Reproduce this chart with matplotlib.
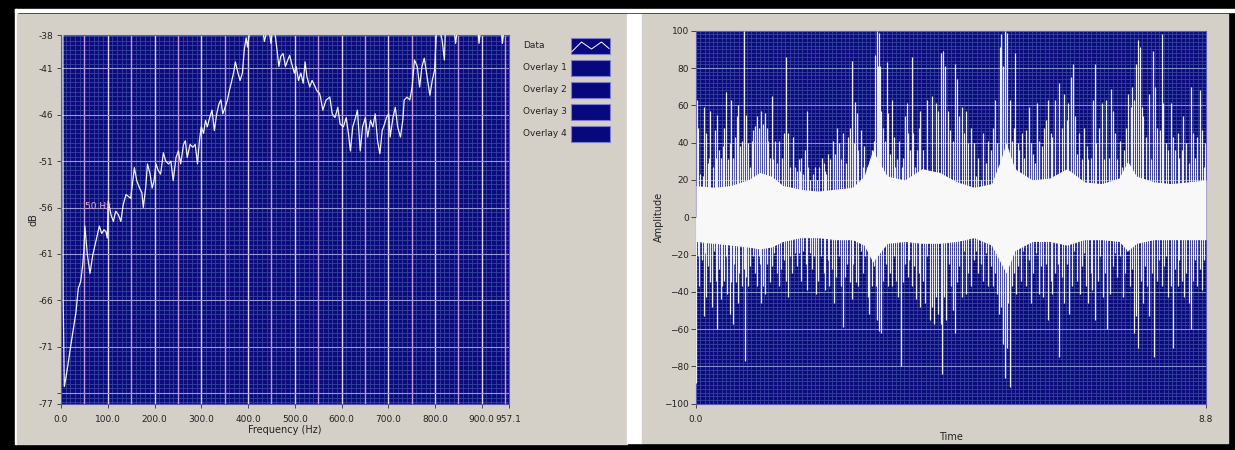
import numpy as np
import matplotlib
matplotlib.use("Agg")
from matplotlib import pyplot as plt
from matplotlib.patches import Rectangle

# ---- left graph: power spectrum (Hz, dB) ----
freq_hz = [4, 4.6, 7, 10, 15.6, 20.8, 26.3, 32, 37, 42, 46.4, 49, 51, 56.4, 62, 68, 73, 78, 82, 87,
           92, 96, 99, 101, 107, 112, 117, 123, 128, 133, 139, 144, 149, 153.5, 157, 162, 168, 173,
           176, 181, 185, 190.6, 195, 199, 203, 208, 213, 219, 224, 230, 235, 240, 246, 251, 256,
           262, 266, 270, 276, 282, 287, 292, 296, 300, 305, 309, 313, 318, 323, 328, 333, 338, 342,
           346, 351, 356, 360, 364, 369, 373, 378, 383, 388, 392, 396, 399, 403, 410, 420, 430, 435,
           440, 445, 449, 452, 457, 462, 466, 470, 475, 480, 485, 489, 494, 499, 503, 508, 513, 518,
           522, 526, 532, 537, 542, 547, 553, 555, 560, 567, 575, 580, 586, 592, 597, 604, 610, 615,
           619, 624, 630, 634, 640, 645, 651, 656, 662, 667, 672, 677, 682, 687, 692, 696, 701, 704,
           710, 715, 720, 726, 731, 734, 740, 746, 751, 756, 762, 767, 772, 777, 783, 789, 794, 799,
           803, 808, 815, 820, 822, 830, 841, 844, 847, 870, 892, 894, 897, 920, 942, 944, 947, 957.1]
level_db = [-36, -65.5, -75.3, -74.5, -72.7, -70.9, -69.1, -67.3, -64.7, -64, -62.2, -60.6, -58, -61.1,
            -63.1, -61.1, -60, -58.9, -58, -58.8, -58.4, -58.6, -59.3, -55.3, -56.8, -57.5, -56.4,
            -56.8, -57.5, -55.7, -54.6, -54.8, -55, -53.1, -51.7, -53.1, -53.9, -54.4, -56, -53.9,
            -51.3, -52.4, -53.9, -53.1, -51.3, -52, -52.4, -50.1, -51, -51.3, -51, -53.1, -50.6,
            -49.9, -51.3, -49.2, -48.8, -50.6, -49.2, -49.5, -49.2, -51.3, -48.8, -47.3, -48, -46.6,
            -47.3, -46.3, -45.5, -47.7, -45.9, -44.8, -44.4, -45.9, -45.2, -44.4, -43.4, -42.6,
            -41.5, -40.3, -41.4, -42.3, -41.5, -39, -37.7, -38.7, -37.2, -36, -36.5, -36.2, -38.1,
            -37, -36.8, -38.3, -37, -37, -39, -40.8, -39.7, -39.4, -40.8, -40.1, -39.6, -40.6, -41.5,
            -40.8, -42.3, -41.5, -42.6, -40.3, -41.9, -43, -42.3, -42.8, -43.4, -43.7, -44.1, -45.5,
            -44.4, -44.1, -45.9, -46.3, -45.2, -47, -47.3, -46.3, -48.1, -49.9, -47.3, -46.3, -45.5,
            -49.9, -47.3, -46.3, -48.4, -46.6, -47.3, -45.9, -48.8, -50.2, -47.7, -47, -46.3, -45.9,
            -48.4, -46.3, -45.2, -47.3, -48.4, -46.6, -44.4, -44.1, -44.4, -43, -40.1, -40.8, -43,
            -40.8, -39.9, -41.9, -43.9, -42.3, -41.2, -37, -36.5, -37.9, -40.1, -37, -36.5, -37,
            -38.3, -37, -36.5, -37, -38.3, -37, -36.5, -37, -38.3, -37, -36.8]

freq_ticks = [0, 100, 200, 300, 400, 500, 600, 700, 800, 900, 957.1]
freq_labels = ["0.0", "100.0", "200.0", "300.0", "400.0", "500.0", "600.0", "700.0", "800.0",
               "900.0", "957.1"]
db_ticks = [-37.4, -41, -46, -51, -56, -61, -66, -71, -76, -77.15]
db_labels = ["-38", "-41", "-46", "-51", "-56", "-61", "-66", "-71", "", "-77"]
legend_names = ["Data", "Overlay 1", "Overlay 2", "Overlay 3", "Overlay 4"]

# ---- right graph: time signal ----
core_t = [0.0, 0.3, 0.6, 0.9, 1.1, 1.3, 1.5, 1.8, 2.1, 2.4, 2.7, 2.9, 3.05, 3.15, 3.3, 3.6, 3.9, 4.2,
          4.5, 4.8, 5.1, 5.25, 5.35, 5.5, 5.8, 6.1, 6.4, 6.7, 7.0, 7.3, 7.45, 7.6, 7.9, 8.2, 8.5, 8.8]
core_hi = [17, 16, 17, 20, 24, 22, 17, 15, 14, 15, 16, 22, 36, 30, 22, 20, 26, 24, 19, 16, 18, 30,
           40, 26, 20, 21, 26, 19, 18, 21, 30, 22, 19, 18, 19, 20]
core_lo = [-13, -14, -15, -16, -17, -16, -13, -11, -11, -12, -12, -15, -24, -20, -14, -13, -14, -14,
           -13, -11, -15, -24, -30, -18, -13, -13, -15, -12, -12, -13, -18, -14, -12, -12, -12, -12]

up_t = [0.01, 0.04, 0.07, 0.12, 0.14, 0.17, 0.20, 0.23, 0.25, 0.29, 0.32, 0.35, 0.37, 0.40, 0.43,
        0.46, 0.49, 0.52, 0.55, 0.58, 0.60, 0.63, 0.67, 0.70, 0.73, 0.76, 0.80, 0.83, 0.86, 0.89,
        0.93, 0.96, 0.99, 1.02, 1.05, 1.09, 1.13, 1.16, 1.19, 1.22, 1.25, 1.28, 1.31, 1.33, 1.36,
        1.39, 1.44, 1.48, 1.52, 1.55, 1.59, 1.63, 1.67, 1.71, 1.74, 1.77, 1.79, 1.82, 1.85, 1.88,
        1.91, 1.94, 1.97, 2.02, 2.05, 2.08, 2.13, 2.17, 2.20, 2.23, 2.25, 2.28, 2.32, 2.36, 2.40,
        2.44, 2.47, 2.51, 2.54, 2.59, 2.63, 2.66, 2.69, 2.72, 2.74, 2.77, 2.80, 2.84, 2.88, 2.90,
        2.95, 2.97, 3.00, 3.04, 3.07, 3.09, 3.12, 3.14, 3.16, 3.18, 3.20, 3.23, 3.26, 3.29, 3.32,
        3.35, 3.38, 3.41, 3.43, 3.46, 3.51, 3.55, 3.58, 3.61, 3.64, 3.66, 3.69, 3.72, 3.75, 3.78,
        3.81, 3.84,
        3.87, 3.92, 3.98, 4.04, 4.08, 4.14, 4.18, 4.22, 4.26, 4.30, 4.34, 4.38, 4.43, 4.47, 4.51,
        4.54, 4.59, 4.63, 4.66, 4.70, 4.74, 4.79, 4.83, 4.87, 4.91, 4.96, 5.00, 5.04, 5.09, 5.13,
        5.16, 5.20, 5.24, 5.26, 5.30, 5.33, 5.37, 5.41, 5.45, 5.48, 5.51, 5.55, 5.58, 5.62, 5.66,
        5.70, 5.74, 5.78, 5.81, 5.85, 5.89, 5.92, 5.97, 6.01, 6.04, 6.08, 6.12, 6.15, 6.19, 6.24,
        6.27, 6.31, 6.35, 6.40, 6.42, 6.47, 6.50, 6.54, 6.58, 6.61, 6.66, 6.70, 6.74, 6.77, 6.81,
        6.85, 6.89, 6.91, 6.96, 7.00, 7.04, 7.08, 7.12, 7.16, 7.19, 7.23, 7.27, 7.31, 7.35, 7.39,
        7.42, 7.46, 7.50, 7.53, 7.56, 7.59, 7.63, 7.66, 7.69, 7.72, 7.76, 7.81, 7.85, 7.88, 7.92,
        7.96, 8.00, 8.04, 8.06, 8.11, 8.15, 8.19, 8.23, 8.27, 8.31, 8.34, 8.38, 8.41, 8.46, 8.50,
        8.54, 8.57, 8.61, 8.65, 8.70, 8.73, 8.77, 8.79]
up_amp = [63, 48, 23, 22, 59, 45, 29, 32, 57, 27, 47, 32, 55, 36, 32, 38, 48, 67, 31, 40, 63, 32,
          43, 54, 60, 38, 41, 100, 55, 40, 27, 41, 47, 49, 54, 48, 57, 50, 56, 48, 41, 32, 65, 31,
          41, 29, 41, 32, 45, 86, 45, 27, 43, 27, 25, 31, 25, 32, 23, 36, 57, 27, 20, 23, 27, 20,
          27, 32, 29, 25, 23, 34, 31, 41, 34, 48, 40, 31, 45, 29, 43, 48, 84, 40, 62, 56, 36, 47,
          27, 38, 27, 22, 31, 36, 41, 87, 100, 81, 99, 81, 57, 48, 41, 83, 56, 34, 63, 43, 27, 31,
          41, 27, 32, 54, 61, 45, 36, 86, 45, 27, 36, 48,
          57, 36, 63, 20, 65, 61, 57, 88, 89, 81, 57, 47, 41, 82, 74, 54, 59, 45, 57, 40, 48, 40,
          22, 32, 20, 45, 29, 41, 36, 48, 63, 40, 91, 98, 81, 100, 99, 63, 41, 48, 88, 40, 36, 45,
          32, 47, 59, 40, 34, 29, 61, 41, 38, 48, 52, 63, 45, 43, 63, 23, 72, 48, 66, 52, 61, 75,
          82, 54, 34, 45, 31, 48, 38, 31, 32, 63, 82, 40, 48, 61, 31, 63, 32, 69, 57, 45, 31, 41,
          27, 36, 48, 66, 59, 70, 63, 82, 95, 91, 59, 54, 43, 66, 31, 89, 70, 48, 47, 98, 61, 40,
          36, 61, 43, 36, 45, 32, 36, 54, 40, 29, 70, 45, 32, 43, 68, 47, 27, 40]

down_t = [0.00, 0.03, 0.06, 0.10, 0.13, 0.16, 0.18, 0.21, 0.24, 0.27, 0.31, 0.34, 0.37, 0.40, 0.43,
          0.45, 0.48, 0.52, 0.54, 0.58, 0.60, 0.63, 0.66, 0.69, 0.72, 0.75, 0.79, 0.82, 0.85, 0.87,
          0.90, 0.94, 0.98, 1.02, 1.05, 1.08, 1.10, 1.13, 1.16, 1.19, 1.23, 1.27, 1.31, 1.35, 1.39,
          1.43, 1.46, 1.51, 1.55, 1.58, 1.62, 1.66, 1.70, 1.74, 1.78, 1.81, 1.85, 1.89, 1.92, 1.96,
          2.00, 2.04, 2.07, 2.11, 2.15, 2.20, 2.23, 2.27, 2.30, 2.34, 2.38, 2.42, 2.46, 2.50, 2.53,
          2.57, 2.61, 2.65, 2.69, 2.71, 2.76, 2.80, 2.84, 2.88, 2.92, 2.96, 2.99, 3.03, 3.07, 3.11,
          3.13, 3.16, 3.19, 3.23, 3.27, 3.31, 3.35, 3.38, 3.42, 3.45, 3.49, 3.53, 3.57, 3.61, 3.65,
          3.68, 3.72, 3.76, 3.80, 3.84,
          3.87, 3.91, 3.95, 3.99, 4.04, 4.08, 4.11, 4.14, 4.18, 4.22, 4.25, 4.28, 4.31, 4.36, 4.40,
          4.43, 4.47, 4.51, 4.54, 4.59, 4.63, 4.66, 4.70, 4.74, 4.79, 4.83, 4.87, 4.91, 4.96, 5.00,
          5.04, 5.09, 5.12, 5.16, 5.20, 5.23, 5.26, 5.30, 5.33, 5.36, 5.39, 5.42, 5.45, 5.49, 5.52,
          5.56, 5.60, 5.65, 5.70, 5.74, 5.78, 5.82, 5.87, 5.91, 5.95, 5.99, 6.04, 6.08, 6.12, 6.15,
          6.20, 6.24, 6.27, 6.31, 6.35, 6.40, 6.44, 6.48, 6.52, 6.57, 6.62, 6.66, 6.70, 6.73, 6.77,
          6.81, 6.84, 6.89, 6.93, 6.97, 7.02, 7.06, 7.10, 7.14, 7.19, 7.23, 7.27, 7.32, 7.36, 7.40,
          7.44, 7.48, 7.52, 7.56, 7.59, 7.63, 7.67, 7.71, 7.75, 7.79, 7.82, 7.86, 7.91, 7.95, 7.99,
          8.04, 8.08, 8.11, 8.15, 8.19, 8.23, 8.27, 8.31, 8.34, 8.38, 8.42, 8.45, 8.50, 8.54, 8.57,
          8.61, 8.65, 8.69, 8.73, 8.77]
down_amp = [-89, -21, -37, -23, -53, -19, -43, -26, -35, -48, -18, -34, -60, -28, -44, -37, -34, -21,
            -41, -52, -35, -57, -25, -35, -46, -30, -37, -28, -77, -32, -37, -26, -21, -30, -37,
            -21, -25, -46, -37, -41, -25, -35, -26, -19, -30, -37, -28, -23, -34, -43, -21, -30,
            -19, -26, -19, -34, -18, -25, -39, -19, -28, -21, -41, -34, -21, -30, -39, -23, -37,
            -28, -46, -32, -21, -37, -59, -32, -25, -35, -44, -25, -35, -37, -18, -30, -21, -43,
            -52, -37, -26, -37, -55, -61, -62, -34, -25, -37, -30, -37, -21, -34, -43, -80, -35,
            -25, -32, -23, -37, -26, -44, -30,
            -48, -34, -46, -21, -55, -48, -57, -43, -52, -57, -84, -43, -55, -25, -37, -50, -62,
            -35, -26, -43, -18, -41, -30, -37, -23, -18, -30, -25, -34, -19, -37, -26, -37, -30,
            -41, -52, -48, -68, -86, -70, -46, -91, -37, -30, -41, -26, -34, -18, -37, -23, -46,
            -30, -19, -41, -26, -43, -25, -55, -34, -41, -30, -25, -75, -32, -46, -25, -52, -37,
            -18, -34, -41, -26, -19, -37, -46, -30, -39, -55, -34, -21, -43, -30, -60, -41, -26,
            -19, -32, -21, -43, -30, -18, -37, -28, -62, -53, -70, -34, -46, -26, -37, -53, -30,
            -75, -34, -23, -37, -26, -21, -43, -37, -70, -28, -37, -23, -34, -43, -30, -46, -60,
            -34, -23, -37, -28, -39, -23]
amp_ticks = [-100, -80, -60, -40, -20, 0, 20, 40, 60, 80, 100]
time_ticks = [0.0, 8.8]
time_labels = ["0.0", "8.8"]

W, H = 1235, 450
panel_grey = "#d4d0c8"
plot_navy = "#0b0b7c"
mesh = "#3642a0"
text_col = "#222222"

fig = plt.figure(figsize=(W / 100, H / 100), dpi=100, facecolor="black")

# background frame drawn in pixel units
bg = fig.add_axes([0, 0, 1, 1])
bg.set_xlim(0, W)
bg.set_ylim(H, 0)
bg.axis("off")
bg.add_patch(Rectangle((15, 9), 1220, 3.3, color="white"))
bg.add_patch(Rectangle((15, 9), 2.3, 435, color="white"))
bg.add_patch(Rectangle((17, 14), 610, 430, color=panel_grey))
bg.add_patch(Rectangle((627, 14), 15, 429, color="white"))
bg.add_patch(Rectangle((642, 14), 586, 429, color=panel_grey))

# legend of the spectrum graph
for i, name in enumerate(legend_names):
    yc = 45.5 + i * 22
    bg.text(523, yc, name, fontsize=6.5, color=text_col, va="center", ha="left")
    bg.add_patch(Rectangle((571, yc - 8), 39, 16.5, facecolor="#08087e", edgecolor="#7c7cc8", lw=0.8))
bg.plot([572, 581.5, 591.5, 601.5, 609], [51.5, 42, 49, 42, 48.5], color="white", lw=0.7)


def px_axes(x0, y0, x1, y1):
    return fig.add_axes([x0 / W, 1 - y1 / H, (x1 - x0) / W, (y1 - y0) / H])


def style_axes(ax):
    ax.set_facecolor(plot_navy)
    for s in ax.spines.values():
        s.set_color("#5a5ab4")
        s.set_linewidth(0.8)
    ax.tick_params(which="major", direction="out", length=3, width=0.7, color="#444444",
                   labelsize=6.5, labelcolor=text_col)
    ax.tick_params(which="minor", length=0)
    ax.set_axisbelow(True)


# ---- spectrum ----
ax1 = px_axes(61, 35, 508.5, 403.7)
style_axes(ax1)
ax1.set_xlim(0, 957.1)
ax1.set_ylim(-77.15, -37.4)
ax1.set_xticks(np.arange(0, 957.1, 10), minor=True)
ax1.set_yticks(np.arange(-77, -37.4, 0.5), minor=True)
ax1.grid(which="minor", color=mesh, lw=0.6)
for f in np.arange(50, 951, 50):
    ax1.axvline(f, color="#e2d4f0" if f % 100 == 0 else "#c49ad8", lw=1.0, zorder=1)
for d in db_ticks[1:-1]:
    ax1.axhline(d, color="#9a9ad8", lw=0.8, zorder=1)
ax1.plot(freq_hz, level_db, color="#f2f2f2", lw=0.9, zorder=3)
ax1.text(52, -55.9, "50 Hz", fontsize=6.5, color="#e6a8c8", va="center", zorder=4)
ax1.set_xticks(freq_ticks)
ax1.set_xticklabels(freq_labels)
ax1.set_yticks(db_ticks)
ax1.set_yticklabels(db_labels)
ax1.tick_params(axis="x", pad=5)
ax1.tick_params(axis="y", pad=2.5)
ax1.set_xlabel("Frequency (Hz)", fontsize=7, color=text_col, labelpad=1)
ax1.set_ylabel("dB", fontsize=7, color=text_col, labelpad=0)

# ---- time signal ----
ax2 = px_axes(696, 30.7, 1206, 403.7)
style_axes(ax2)
ax2.set_xlim(0, 8.8)
ax2.set_ylim(-100, 100)
ax2.set_xticks(np.linspace(0, 8.8, 121), minor=True)
ax2.set_yticks(np.arange(-100, 101, 2), minor=True)
ax2.grid(which="minor", color=mesh, lw=0.6)
for a in amp_ticks[1:-1]:
    ax2.axhline(a, color="#8290cc", lw=0.8, zorder=1)
ax2.vlines(up_t, 0, up_amp, color="#eceef4", lw=0.9, zorder=3)
ax2.vlines(down_t, 0, down_amp, color="#eceef4", lw=0.9, zorder=3)
ax2.fill_between(core_t, core_lo, core_hi, color="#f8f8f8", lw=0, zorder=4)
ax2.set_xticks(time_ticks)
ax2.set_xticklabels(time_labels)
ax2.set_yticks(amp_ticks)
ax2.tick_params(axis="x", pad=5)
ax2.tick_params(axis="y", pad=1.5, length=3.5)
ax2.set_xlabel("Time", fontsize=7, color=text_col, labelpad=6)
ax2.set_ylabel("Amplitude", fontsize=7, color=text_col, labelpad=0)

fig.savefig("out.png", dpi=100, facecolor=fig.get_facecolor())
